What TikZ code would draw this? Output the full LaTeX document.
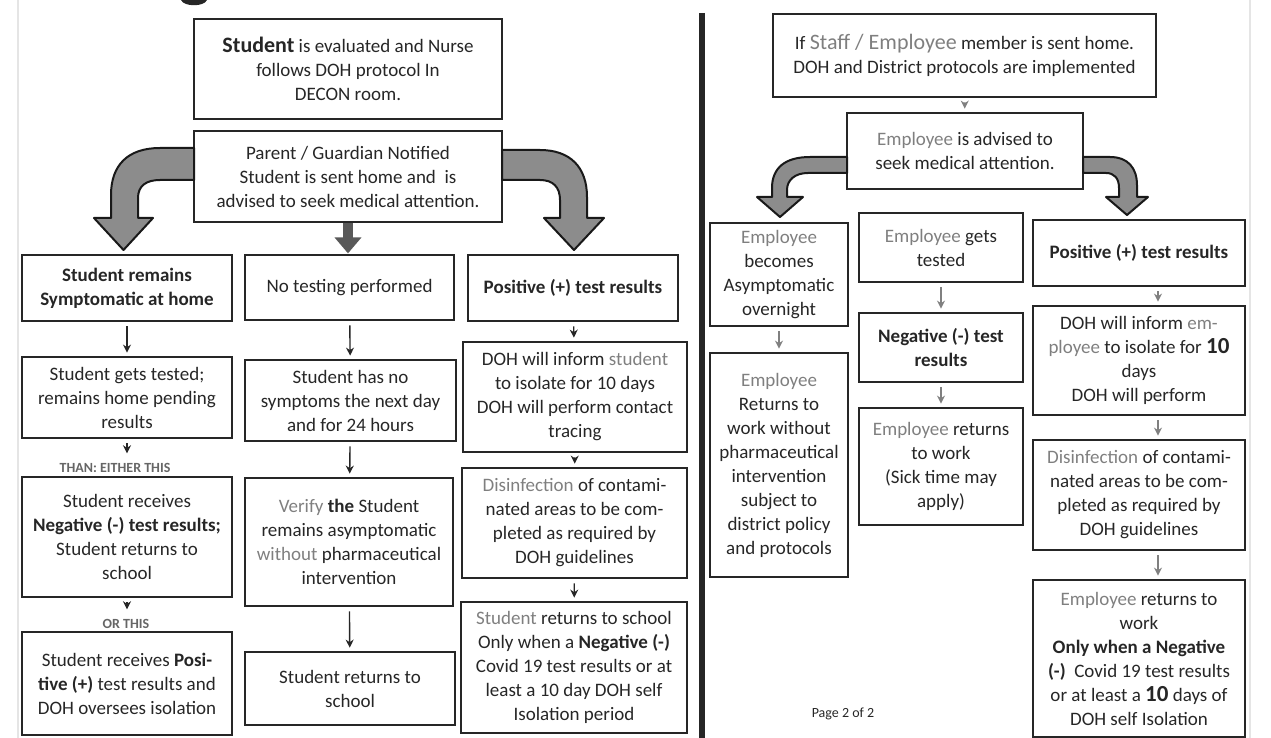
\documentclass[tikz,border=0pt]{standalone}
\usepackage{fontspec}
\setmainfont{Carlito}
\usetikzlibrary{arrows.meta, positioning}

\definecolor{wordgray}{HTML}{7F7F7F}
\definecolor{arrowgray}{HTML}{8C8C8C}
\definecolor{inkgray}{HTML}{262626}
\newcommand{\gw}[1]{{\color{wordgray}#1}}
\newcommand{\boxfont}{\fontsize{9.5}{12}\selectfont}
\newcommand{\bigten}{{\fontsize{11.5}{12}\selectfont\bfseries 10}}

\begin{document}
\begin{tikzpicture} [
    x=0.5pt, y=-0.5pt,
    box/.style = {draw=inkgray, line width=1.4pt, align=center,
        inner sep=1pt, font=\boxfont, text=inkgray},
    note/.style = {font=\fontsize{7}{8}\selectfont\bfseries, text=black!60},
    bigarrow/.style = {fill=arrowgray, draw=black!90, line width=1pt,
        line join=round},
    downarrow/.style = {-{Stealth[length=4pt, width=4pt]}, line width=0.7pt,
        color=inkgray, shorten <=2pt, shorten >=1.5pt},
    grayarrow/.style = {downarrow, color=black!50, line width=0.9pt}]
    % \draw [help lines] (0,0) grid [step=50] (1271,738);
    \useasboundingbox (0,0) rectangle (1271,738);
    \draw [black!10, line width=1pt] (18,0) -- (18,738);
    \draw [black!10, line width=1pt] (1250,0) -- (1250,738);
    \fill [inkgray] (181,0) .. controls (184,7) and (204,7) .. (207,0) -- cycle;
    \draw [line width=3pt, draw=inkgray] (702,13) -- (702,738);

    % student side
    \node (eval) [box, minimum width=154pt, minimum height=50pt] at (348,69)
        {{\fontsize{11}{12}\selectfont\bfseries Student} is evaluated and Nurse\\
         follows DOH protocol In\\ DECON room.};
    \node (notify) [box, minimum width=154pt, minimum height=45.5pt] at (348,176.5)
        {Parent / Guardian Notified\\ Student is sent home and \ is\\
         advised to seek medical attention.};

    \node (symp) [box, font=\boxfont\bfseries, minimum width=105pt,
        minimum height=33pt] at (127,288) {Student remains\\ Symptomatic at home};
    \node (notest) [box, minimum width=104.5pt, minimum height=32.5pt]
        at (349.5,287.5) {No testing performed};
    \node (pos) [box, font=\boxfont\bfseries, minimum width=105pt,
        minimum height=33pt] at (573,288) {Positive (+) test results};

    \node (tested) [box, minimum width=105pt, minimum height=40.5pt] at (127,397.5)
        {Student gets tested;\\ remains home pending\\ results};
    \node (nosymp) [box, minimum width=105.5pt, minimum height=40.5pt]
        at (350.5,400.5) {Student has no\\ symptoms the next day\\ and for 24 hours};
    \node (inform) [box, minimum width=112pt, minimum height=55pt] at (575,397)
        {DOH will inform \gw{student}\\ to isolate for 10 days\\
         DOH will perform contact\\ tracing};

    \node (either) [note] at (115,468) {THAN: EITHER THIS};
    \node (neg) [box, minimum width=105pt, minimum height=60pt] at (127,537)
        {Student receives\\ \textbf{Negative (-) test results;}\\
         Student returns to\\ school};
    \node (verify) [box, minimum width=104pt, minimum height=64pt] at (349,542)
        {\gw{Verify} \textbf{the} Student\\ remains asymptomatic\\
         \gw{without} pharmaceutical\\ intervention};
    \node (disinf) [box, minimum width=112.5pt, minimum height=55pt] at (574.5,523)
        {\gw{Disinfection} of contami-\\ nated areas to be com-\\
         pleted as required by\\ DOH guidelines};

    \node (orthis) [note] at (126,624) {OR THIS};
    \node (posres) [box, minimum width=105pt, minimum height=51.5pt] at (127,683.5)
        {Student receives \textbf{Posi-}\\ \textbf{tive (+)} test results and\\
         DOH oversees isolation};
    \node (back) [box, minimum width=105pt, minimum height=36.5pt] at (350,688.5)
        {Student returns to\\ school};
    \node (backneg) [box, minimum width=113pt, minimum height=65.5pt] at (574,667.5)
        {\gw{Student} returns to school\\ Only when a \textbf{Negative (-)}\\
         Covid 19 test results or at\\ least a 10 day DOH self\\ Isolation period};

    % employee side
    \node (staff) [box, minimum width=191.5pt, minimum height=41.5pt] at (964.5,55.5)
        {If {\fontsize{11}{12}\selectfont\gw{Staff / Employee}} member is sent home.\\
         DOH and District protocols are implemented};
    \node (advise) [box, minimum width=118pt, minimum height=38pt] at (965,151)
        {\gw{Employee} is advised to\\ seek medical attention.};

    \node (asymp) [box, minimum width=69pt, minimum height=51.5pt] at (779,274.5)
        {\gw{Employee}\\ becomes\\ Asymptomatic\\ overnight};
    \node (etest) [box, minimum width=82pt, minimum height=34.5pt] at (941,247.5)
        {\gw{Employee} gets\\ tested};
    \node (epos) [box, font=\boxfont\bfseries, minimum width=106pt,
        minimum height=33pt] at (1139,253) {Positive (+) test results};

    \node (ework) [box, minimum width=69pt, minimum height=112pt] at (779,465)
        {\gw{Employee}\\ Returns to\\ work without\\ pharmaceutical\\
         intervention\\ subject to\\ district policy\\ and protocols};
    \node (eneg) [box, font=\boxfont\bfseries, minimum width=82pt,
        minimum height=34.5pt] at (941,347.5) {Negative (-) test\\ results};
    \node (ereturn) [box, minimum width=82pt, minimum height=58.5pt] at (941,466.5)
        {\gw{Employee} returns\\ to work\\ (Sick time may\\ apply)};

    \node (einform) [box, minimum width=106pt, minimum height=54.5pt] at (1139,360.5)
        {DOH will inform \gw{em-}\\ \gw{ployee} to isolate for \bigten\\
         days\\ DOH will perform};
    \node (edisinf) [box, minimum width=106pt, minimum height=55pt] at (1139,495)
        {\gw{Disinfection} of contami-\\ nated areas to be com-\\
         pleted as required by\\ DOH guidelines};
    \node (eback) [box, minimum width=106pt, minimum height=78.5pt] at (1139,658.5)
        {\gw{Employee} returns to\\ work\\ \textbf{Only when a Negative}\\
         \textbf{(-)}\ \ Covid 19 test results\\ or at least a \bigten\ days of\\
         DOH self Isolation};

    \node (page) [font=\fontsize{7}{8}\selectfont, text=inkgray] at (843,714)
        {Page 2 of 2};

    % big curved arrows
    \filldraw [bigarrow] (194,148) -- (160,148)
        .. controls (128,148) and (111,165) .. (111,195) -- (111,218)
        -- (94,218) -- (123.5,250) -- (153,218) -- (138,218) -- (138,198)
        .. controls (138,186) and (146,180) .. (160,180) -- (194,180) -- cycle;
    \filldraw [bigarrow] (502,150) -- (540,150)
        .. controls (570,150) and (587,167) .. (587,197) -- (587,218)
        -- (604,218) -- (574,250) -- (544,218) -- (560,218) -- (560,200)
        .. controls (560,187) and (553,180) .. (540,180) -- (502,180) -- cycle;
    \draw [black!65, line width=5pt, -{Triangle[length=8pt, width=13pt]}]
        (notify.south) -- ++(0,30);
    \filldraw [bigarrow] (847,157) -- (810,157)
        .. controls (785,157) and (772,168) .. (772,188) -- (772,197)
        -- (757,197) -- (780,217) -- (803,197) -- (787,197) -- (787,190)
        .. controls (787,180) and (795,173) .. (808,173) -- (847,173) -- cycle;
    \filldraw [bigarrow] (1083,157) -- (1110,157)
        .. controls (1128,157) and (1137,168) .. (1137,185) -- (1137,197)
        -- (1148,197) -- (1127,215) -- (1106,197) -- (1119,197) -- (1119,188)
        .. controls (1119,178) and (1114,173) .. (1106,173) -- (1083,173) -- cycle;

    \path [downarrow]
        (symp) edge (tested)
        (notest) edge (nosymp)
        (pos) edge (inform)
        (tested) edge (tested.south |- either.north)
        (nosymp) edge (verify)
        (inform) edge (disinf)
        (neg) edge (neg.south |- orthis.north)
        (verify) edge (back)
        (disinf) edge (backneg);

    \path [grayarrow]
        (staff) edge (advise)
        (asymp) edge (ework)
        (etest) edge (eneg)
        (eneg) edge (ereturn)
        ([xshift=9.5pt]epos.south) edge ([xshift=9.5pt]einform.north)
        ([xshift=9.5pt]einform.south) edge ([xshift=9.5pt]edisinf.north)
        ([xshift=9.5pt]edisinf.south) edge ([xshift=9.5pt]eback.north);
\end{tikzpicture}
\end{document}
